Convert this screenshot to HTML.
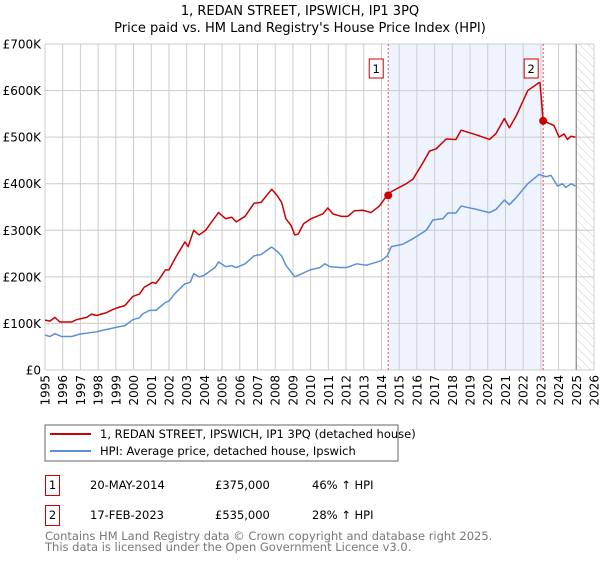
<!DOCTYPE html>
<html><head><meta charset="utf-8"><style>
body{margin:0;background:#fff;font-family:"DejaVu Sans","Liberation Sans",sans-serif;}
svg text{font-family:"DejaVu Sans","Liberation Sans",sans-serif;}
</style></head><body>
<svg id="c" width="600" height="560" xmlns="http://www.w3.org/2000/svg">
<defs><pattern id="hatch" width="6" height="6" patternUnits="userSpaceOnUse" patternTransform="rotate(-45)"><line x1="0" y1="0" x2="0" y2="6" stroke="#ccc" stroke-width="1"/></pattern></defs>
<text x="300" y="15" text-anchor="middle" font-size="13">1, REDAN STREET, IPSWICH, IP1 3PQ</text>
<text x="300" y="32" text-anchor="middle" font-size="13">Price paid vs. HM Land Registry's House Price Index (HPI)</text>
<g id="plot"></g>
<rect x="45" y="425" width="353" height="36" fill="#fff" stroke="#666"/>
<line x1="50" y1="434" x2="91" y2="434" stroke="#cc0000" stroke-width="2"/>
<text x="100" y="438" font-size="11.5">1, REDAN STREET, IPSWICH, IP1 3PQ (detached house)</text>
<line x1="50" y1="451" x2="91" y2="451" stroke="#5b8fd6" stroke-width="2"/>
<text x="100" y="455" font-size="11.5">HPI: Average price, detached house, Ipswich</text>
<rect x="45.5" y="475.5" width="14" height="20" fill="none" stroke="#cc0000"/>
<text x="52.5" y="489" text-anchor="middle" font-size="11.5">1</text>
<text x="90" y="489" font-size="11.5">20-MAY-2014</text>
<text x="215" y="489" font-size="11.5">£375,000</text>
<text x="312" y="489" font-size="11.5">46% ↑ HPI</text>
<rect x="45.5" y="505.5" width="14" height="20" fill="none" stroke="#cc0000"/>
<text x="52.5" y="519" text-anchor="middle" font-size="11.5">2</text>
<text x="90" y="519" font-size="11.5">17-FEB-2023</text>
<text x="215" y="519" font-size="11.5">£535,000</text>
<text x="312" y="519" font-size="11.5">28% ↑ HPI</text>
<text x="45" y="540" font-size="11.5" fill="#777">Contains HM Land Registry data © Crown copyright and database right 2025.</text>
<text x="45" y="551" font-size="11.5" fill="#777">This data is licensed under the Open Government Licence v3.0.</text>
</svg>
<script>
const yTicks=[0,100,200,300,400,500,600,700];
const yTickLabels=["£0","£100K","£200K","£300K","£400K","£500K","£600K","£700K"];
const xYears=[1995,1996,1997,1998,1999,2000,2001,2002,2003,2004,2005,2006,2007,2008,2009,2010,2011,2012,2013,2014,2015,2016,2017,2018,2019,2020,2021,2022,2023,2024,2025,2026];
const hpiDates=[1995,1995.28,1995.56,1995.93,1996.5,1996.96,1997.9,1998.46,1999.2,1999.5,1999.96,2000.33,2000.5,2000.9,2001.26,2001.8,2002.0,2002.35,2002.9,2003.2,2003.4,2003.7,2003.97,2004.6,2004.8,2005.2,2005.55,2005.8,2006.3,2006.8,2007.2,2007.8,2008.1,2008.36,2008.6,2009.1,2009.4,2009.97,2010.53,2010.8,2011.1,2011.65,2012.03,2012.6,2013.16,2014.0,2014.32,2014.56,2015.2,2015.78,2016.53,2016.9,2017.47,2017.75,2018.2,2018.5,2019.35,2020.1,2020.47,2020.94,2021.22,2021.6,2022.26,2022.9,2023.29,2023.57,2023.94,2024.22,2024.41,2024.7,2024.95];
const hpiValues=[75,72,78,72,72,77,82,87,93,95,108,112,120,128,128,145,148,165,185,188,207,200,203,220,232,222,224,220,228,245,248,264,255,245,225,200,205,215,220,228,222,220,220,228,225,235,245,265,270,282,300,322,325,337,337,352,345,338,345,365,355,370,400,420,415,418,395,400,392,400,395];
const priceDates=[1995,1995.28,1995.56,1995.84,1996.5,1996.78,1997.35,1997.63,1997.9,1998.46,1998.84,1999.2,1999.5,1999.96,2000.33,2000.61,2001.07,2001.26,2001.45,2001.8,2002.0,2002.35,2002.9,2003.08,2003.4,2003.7,2004.07,2004.45,2004.8,2005.2,2005.55,2005.8,2006.3,2006.8,2007.2,2007.8,2008.1,2008.36,2008.6,2008.9,2009.1,2009.3,2009.6,2010.03,2010.68,2010.97,2011.26,2011.73,2012.1,2012.48,2012.95,2013.41,2013.88,2014.32,2014.56,2015.4,2015.78,2016.34,2016.71,2017.09,2017.65,2018.2,2018.5,2019.35,2020.1,2020.47,2020.94,2021.22,2021.6,2022.26,2022.9,2022.95,2023.13,2023.74,2024.03,2024.31,2024.5,2024.7,2024.95];
const priceValues=[107,105,113,103,103,108,113,120,117,123,130,135,138,158,163,178,188,186,195,215,215,240,275,265,300,290,300,320,338,325,328,318,330,358,360,388,375,360,325,310,290,292,314,325,335,348,335,330,330,342,343,338,352,375,383,400,410,445,470,475,496,495,515,505,495,508,540,520,545,600,617,617,535,525,500,507,495,502,500];
const sales=[{d:2014.38,v:375,n:"1"},{d:2023.13,v:535,n:"2"}];
const X0=45,X1=594,Y0=370,Y1=44;
const sx=y=>X0+(y-1995)/(2026-1995)*(X1-X0);
const sy=v=>Y0-v/700*(Y0-Y1);
const NS="http://www.w3.org/2000/svg";
const g=document.getElementById('plot');
function mk(t,a,p){const e=document.createElementNS(NS,t);for(const k in a)e.setAttribute(k,a[k]);(p||g).appendChild(e);return e;}
let r=mk('rect',{x:sx(sales[0].d),y:Y1,width:sx(sales[1].d)-sx(sales[0].d),height:Y0-Y1,fill:'#eef3fd'});


r=mk('rect',{x:sx(2025),y:Y1,width:X1-sx(2025),height:Y0-Y1,fill:'url(#hatch)'});


xYears.forEach(y=>{const l=mk('line',{x1:sx(y),x2:sx(y),y1:Y1,y2:Y0,stroke:'#ccc','stroke-width':1});


const tx=sx(y)+4.5,ty=Y0+5;
const t=mk('text',{x:tx,y:ty,'text-anchor':'end','font-size':12,transform:'rotate(-90 '+tx+' '+ty+')'});t.textContent=y;

});
yTicks.forEach((v,i)=>{const l=mk('line',{x1:X0,x2:X1,y1:sy(v),y2:sy(v),stroke:'#ccc','stroke-width':1});


const t=mk('text',{x:X0-4,y:sy(v)+4.5,'text-anchor':'end','font-size':12});t.textContent=yTickLabels[i];

});
r=mk('line',{x1:sx(2025),x2:sx(2025),y1:Y1,y2:Y0,stroke:'#999','stroke-width':1.5});


sales.forEach(s=>{const l=mk('line',{x1:sx(s.d),x2:sx(s.d),y1:Y1,y2:Y0,stroke:'#e05050','stroke-width':1,'stroke-dasharray':'2,2'});


const b=mk('rect',{x:sx(s.d)-19,y:59,width:14,height:19,fill:'#fff',stroke:'#cc0000'});


const t=mk('text',{x:sx(s.d)-12,y:73,'text-anchor':'middle','font-size':11.5});t.textContent=s.n;

});
function line(ds,vs,c,n){const p=mk('polyline',{points:ds.map((d,i)=>sx(d)+','+sy(vs[i])).join(' '),fill:'none',stroke:c,'stroke-width':1.5,'stroke-linejoin':'round'});

}
line(hpiDates,hpiValues,'#5b8fd6','hpi-line');
line(priceDates,priceValues,'#cc0000','price-line');
sales.forEach(s=>{const c=mk('circle',{cx:sx(s.d),cy:sy(s.v),r:4,fill:'#cc0000'});

});
</script>
</body></html>
